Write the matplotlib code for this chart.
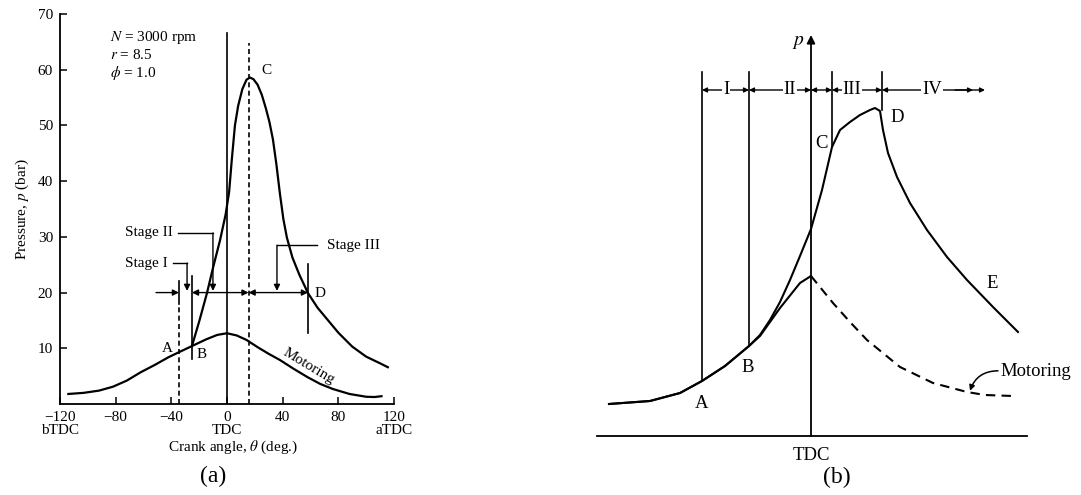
import matplotlib.pyplot as plt

plt.rcParams['font.family'] = ['Liberation Serif', 'DejaVu Serif']
plt.rcParams['mathtext.fontset'] = 'stix'

# ---------------- (a) measured pressure trace ----------------
theta_fire = [-25.2, -20, -14.4, -10, -5, -1, 1.5, 3.5, 5.7, 8, 11, 14, 16.5,
              19, 22, 25, 28, 30.5, 33, 35.5, 38, 40.5, 43, 47, 52, 58.2,
              65, 72, 80, 90, 100, 110, 115.6]
p_fire = [10.4, 14.8, 19.9, 24.5, 29.4, 34, 38, 44, 50, 53.5, 56.5, 58.2, 58.6,
          58.3, 57.3, 55.5, 53, 50.6, 47.5, 43, 37.8, 33.2, 29.9, 26.3, 23.2, 19.9,
          17.3, 15.2, 12.8, 10.3, 8.5, 7.3, 6.6]

theta_motor = [-114, -103, -92, -82, -72, -62, -52, -42, -34.5, -25.2, -15, -7,
               0, 7, 14, 22, 30, 38, 48, 58, 67, 76, 88, 100, 106, 111]
p_motor = [1.8, 2.0, 2.4, 3.1, 4.2, 5.7, 7.0, 8.4, 9.3, 10.4, 11.6, 12.4,
           12.7, 12.3, 11.5, 10.2, 9.0, 7.9, 6.3, 4.8, 3.6, 2.7, 1.8, 1.3, 1.25, 1.4]

x_ticks = [-120, -80, -40, 0, 40, 80, 120]
x_ticklabels = ['\u2212120\nbTDC', '\u221280', '\u221240', '0\nTDC', '40', '80', '120\naTDC']
y_ticks = [10, 20, 30, 40, 50, 60, 70]

# stage boundaries (deg) and points
th_A, th_B, th_C, th_D = -34.5, -25.2, 15.5, 58.2
p_dim = 20

# ---------------- (b) schematic ----------------
theta_b_fire = [-101, -80.5, -65.5, -54.5, -43, -31, -25.5, -20.5, -15.5, -10.5,
                -5.5, 0, 5.5, 10.5, 14.5, 19.5, 24.5, 29.5, 32, 34.5, 36, 38.5,
                43, 49.5, 58, 68, 78, 91, 103.5]
p_b_fire = [8, 8.75, 10.75, 13.75, 17.5, 22.5, 25.25, 29, 33.5, 39,
            45, 51.75, 61.5, 72.25, 76.5, 78.5, 80.25, 81.5, 82, 81.25, 76.5, 70.75,
            64.75, 58.25, 51.5, 44.75, 39, 32.25, 26]

theta_b_motor = [-101, -80.5, -65.5, -54.5, -43, -31, -25.5, -15.5, -5.5, 0]
p_b_motor = [8, 8.75, 10.75, 13.75, 17.5, 22.5, 25, 32, 38.25, 40]
theta_b_motor_exp = [0, 11, 19.5, 28, 44.5, 61, 78, 87, 101]
p_b_motor_exp = [40, 33.25, 28.5, 24, 17.25, 13.25, 11, 10.25, 10]

b_A, b_B, b_C, b_D = -54.5, -31, 10.5, 35.5
b_top, b_dim = 91, 86.5

W, H = 1081, 495
fig = plt.figure(figsize=(W / 100, H / 100), dpi=100)

# ================= panel (a) =================
ax = fig.add_axes([60 / W, (H - 404) / H, 334 / W, 390 / H])
ax.set_xlim(-120, 120)
ax.set_ylim(0, 70)
for s in ['top', 'right']:
    ax.spines[s].set_visible(False)
for s in ['left', 'bottom']:
    ax.spines[s].set_linewidth(1.3)
ax.set_xticks(x_ticks)
ax.set_xticklabels(x_ticklabels, fontsize=11, linespacing=1.0)
ax.set_yticks(y_ticks)
ax.set_yticklabels([str(v) for v in y_ticks], fontsize=11)
ax.tick_params(direction='in', length=5, width=1.1, pad=5)
ax.set_ylabel('Pressure, $p$ (bar)', fontsize=11, labelpad=5)

ax.plot(theta_motor, p_motor, color='k', lw=1.6)
ax.plot(theta_fire, p_fire, color='k', lw=1.6)

# TDC line and stage boundaries
ax.plot([0, 0], [0, 66.6], color='k', lw=1.2)
ax.plot([th_A, th_A], [0, 18], color='k', lw=1.2, ls=(0, (3, 2)))
ax.plot([th_A, th_A], [18, 22], color='k', lw=1.2)
ax.plot([th_C, th_C], [0, 64.8], color='k', lw=1.2, ls=(0, (3, 2)))
ax.plot([th_B, th_B], [8, 23], color='k', lw=1.2)
ax.plot([th_D, th_D], [12.7, 25.2], color='k', lw=1.2)

arr = dict(arrowstyle='-|>', color='k', lw=1.0, mutation_scale=9, shrinkA=0, shrinkB=0)
arr2 = dict(arrowstyle='<|-|>', color='k', lw=1.0, mutation_scale=9, shrinkA=0, shrinkB=0)
ax.annotate('', xy=(th_A, p_dim), xytext=(-51, p_dim), arrowprops=arr)
ax.annotate('', xy=(th_B, p_dim), xytext=(th_C, p_dim), arrowprops=arr2)
ax.annotate('', xy=(th_C, p_dim), xytext=(th_D, p_dim), arrowprops=arr2)

# stage leaders
ax.text(-42.4, 25.3, 'Stage I', fontsize=11, ha='right', va='center')
ax.plot([-38.8, -28.7], [25.3, 25.3], color='k', lw=1.0)
ax.annotate('', xy=(-28.7, p_dim + 0.3), xytext=(-28.7, 25.3), arrowprops=arr)
ax.text(-38.8, 30.7, 'Stage II', fontsize=11, ha='right', va='center')
ax.plot([-35.2, -10.1], [30.7, 30.7], color='k', lw=1.0)
ax.annotate('', xy=(-10.1, p_dim + 0.3), xytext=(-10.1, 30.7), arrowprops=arr)
ax.text(71.9, 28.5, 'Stage III', fontsize=11, ha='left', va='center')
ax.plot([64.7, 35.9], [28.5, 28.5], color='k', lw=1.0)
ax.annotate('', xy=(35.9, p_dim + 0.3), xytext=(35.9, 28.5), arrowprops=arr)

ax.text(-84, 65.7, '$N$ = 3000 rpm', fontsize=11, va='center')
ax.text(-84, 62.6, '$r$ = 8.5', fontsize=11, va='center')
ax.text(-84, 59.4, '$\\phi$ = 1.0', fontsize=11, va='center')

ax.text(25, 59.8, 'C', fontsize=11, va='center')
ax.text(-43, 10, 'A', fontsize=11, ha='center', va='center')
ax.text(-18, 8.8, 'B', fontsize=11, ha='center', va='center')
ax.text(66.8, 19.9, 'D', fontsize=11, ha='center', va='center')
ax.text(58.5, 6.8, 'Motoring', fontsize=11, ha='center', va='center', rotation=-31)

fig.text(233 / W, 1 - 447 / H, 'Crank angle, $\\theta$ (deg.)', fontsize=11,
         ha='center', va='center')
fig.text(213 / W, 1 - 476 / H, '(a)', fontsize=17, ha='center', va='center')

# ================= panel (b) =================
bx = fig.add_axes([560 / W, (H - 460) / H, 500 / W, 440 / H])
bx.set_xlim(-125.5, 124.5)
bx.set_ylim(-6, 104)
bx.axis('off')

bx.plot([-107, 108], [0, 0], color='k', lw=1.3)
bx.annotate('', xy=(0, 100.25), xytext=(0, 0),
            arrowprops=dict(arrowstyle='-|>', color='k', lw=1.3, mutation_scale=12,
                            shrinkA=0, shrinkB=0))
bx.text(-6.5, 98.3, '$p$', fontsize=14, ha='center', va='center')

bx.plot(theta_b_motor, p_b_motor, color='k', lw=1.5)
bx.plot(theta_b_motor_exp, p_b_motor_exp, color='k', lw=1.5, ls=(0, (4.5, 3)))
bx.plot(theta_b_fire, p_b_fire, color='k', lw=1.5)

bx.plot([b_A, b_A], [13.75, b_top], color='k', lw=1.2)
bx.plot([b_B, b_B], [22.5, b_top], color='k', lw=1.2)
bx.plot([b_C, b_C], [72.25, b_top], color='k', lw=1.2)
bx.plot([b_D, b_D], [81.5, b_top], color='k', lw=1.2)

arrb = dict(arrowstyle='<|-|>', color='k', lw=1.0, mutation_scale=7, shrinkA=0, shrinkB=0)
for x0, x1 in [(b_A, b_B), (b_B, 0), (0, b_C), (b_C, b_D), (b_D, 87)]:
    bx.annotate('', xy=(x0, b_dim), xytext=(x1, b_dim), arrowprops=arrb)
bx.annotate('', xy=(81, b_dim), xytext=(72, b_dim),
            arrowprops=dict(arrowstyle='-|>', color='k', lw=1.0, mutation_scale=7,
                            shrinkA=0, shrinkB=0))
bbox = dict(facecolor='white', edgecolor='none', pad=0.5)
bx.text(-42.5, b_dim, 'I', fontsize=13.5, ha='center', va='center', bbox=bbox)
bx.text(-10.5, b_dim, 'II', fontsize=13.5, ha='center', va='center', bbox=bbox)
bx.text(20.5, b_dim, 'III', fontsize=13.5, ha='center', va='center', bbox=bbox)
bx.text(60.5, b_dim, 'IV', fontsize=13.5, ha='center', va='center', bbox=bbox)

bx.text(-54.5, 8.25, 'A', fontsize=13.5, ha='center', va='center')
bx.text(-31.5, 17, 'B', fontsize=13.5, ha='center', va='center')
bx.text(5.5, 73.25, 'C', fontsize=13.5, ha='center', va='center')
bx.text(43, 79.75, 'D', fontsize=13.5, ha='center', va='center')
bx.text(90.5, 38.25, 'E', fontsize=13.5, ha='center', va='center')
bx.text(0, -4.75, 'TDC', fontsize=13.5, ha='center', va='center')
bx.text(94.5, 16, 'Motoring', fontsize=13.5, ha='left', va='center')
bx.annotate('', xy=(79.5, 11.3), xytext=(93.5, 16.3),
            arrowprops=dict(arrowstyle='-|>', color='k', lw=1.1, mutation_scale=8,
                            shrinkA=0, shrinkB=0, connectionstyle='arc3,rad=0.35'))

fig.text(837 / W, 1 - 477 / H, '(b)', fontsize=17, ha='center', va='center')

fig.savefig('out.png', dpi=100)
